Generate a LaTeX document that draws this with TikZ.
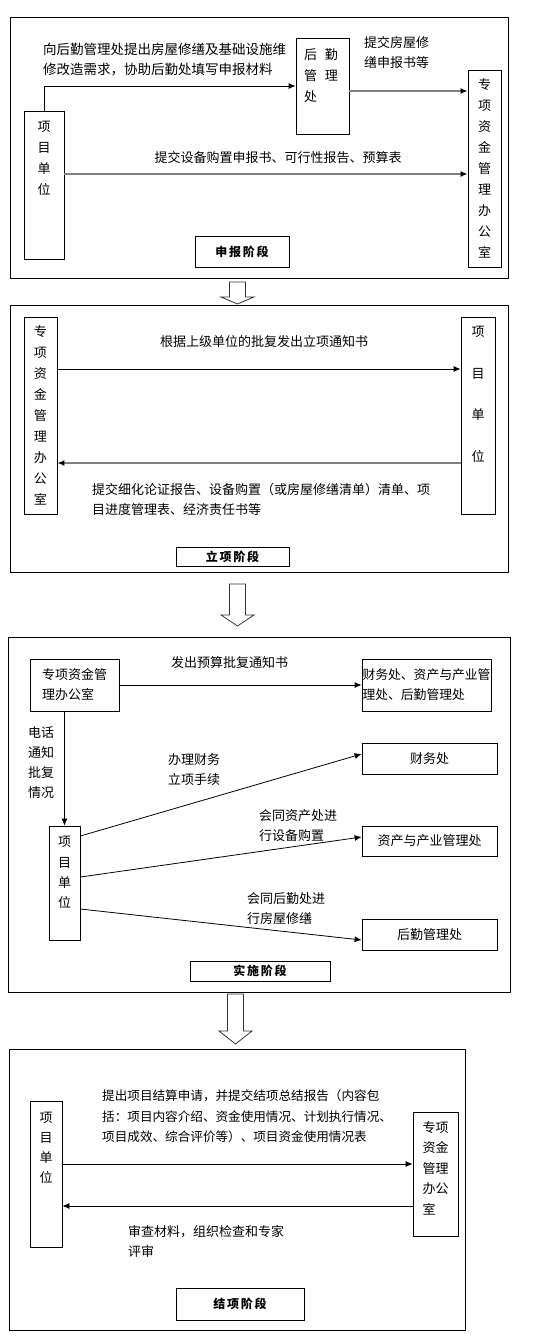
\documentclass[tikz,border=0pt]{standalone}
\usepackage{fontspec}
\setmainfont{Noto Sans CJK SC}
\newfontfamily\stagefont{Noto Sans CJK SC}[LetterSpace=15]
\usetikzlibrary{arrows.meta}
\definecolor{linegray}{RGB}{128,128,128}
\newcommand{\stagearrow}[4]{\draw[blockarr] (#1-8,#2) -- (#1-8,#3) -- (#1-16.5,#3) -- (#1,#4) -- (#1+16.5,#3) -- (#1+8,#3) -- (#1+8,#2) -- cycle;}

\begin{document}
\begin{tikzpicture}[x=1pt,y=-1pt,
	frame/.style={draw,line width=0.8pt},
	box/.style={rectangle,draw,line width=0.8pt,inner sep=0pt},
	txt/.style={inner sep=0pt,align=left,font=\fontsize{13}{20}\selectfont},
	vtxt/.style={inner sep=0pt,align=center,font=\fontsize{13}{21}\selectfont},
	stage/.style={box,font=\stagefont\bfseries\fontsize{12}{14}\selectfont},
	arr/.style={-{Latex[length=7pt,width=6pt]},line width=0.8pt},
	garr/.style={-{Latex[length=7pt,width=6pt,black]},draw=linegray,line width=2pt},
	blockarr/.style={draw=black!80,line width=0.8pt}]
	\useasboundingbox (0,0) rectangle (552,1339);

	\draw[frame] (10,17) rectangle (508,278);
	\path (44,185) node(unit1)[box,minimum width=40,minimum height=148]{}
		(44,158) node(unit1txt)[vtxt]{项\\目\\单\\位}
		(322.5,86) node(hq1)[box,minimum width=53,minimum height=96]{}
		(321,76) node(hq1txt)[txt,font=\fontsize{13}{21}\selectfont]{后\hspace{8pt}勤\\管\hspace{8pt}理\\处}
		(484.5,168.5) node(office1)[box,vtxt,minimum width=33,minimum height=197]{专\\项\\资\\金\\管\\理\\办\\公\\室}
		(242,251.5) node(stage1)[stage,minimum width=94,minimum height=31]{申报阶段}
		(43,60) node(req1)[txt,anchor=west,font=\fontsize{13.5}{20}\selectfont]{向后勤管理处提出房屋修缮及基础设施维\\修改造需求，协助后勤处填写申报材料}
		(364,53) node(sub1)[txt,anchor=west]{提交房屋修\\缮申报书等}
		(278,158) node(equip1)[txt]{提交设备购置申报书、可行性报告、预算表};
	\draw[arr] (unit1.north) |- (hq1.west);
	\draw[garr] (hq1.east |- 0,91) -- (office1.west |- 0,91);
	\draw[garr] (unit1.east |- 0,174) -- (office1.west |- 0,174);

	\stagearrow{237.5}{282}{297}{304}

	\draw[frame] (10,305) rectangle (508,572);
	\path (40.5,415.5) node(office2)[box,vtxt,minimum width=33,minimum height=197]{专\\项\\资\\金\\管\\理\\办\\公\\室}
		(478,415.5) node(unit2)[box,minimum width=34,minimum height=197]{}
		(478,394.5) node(unit2txt)[vtxt,font=\fontsize{13}{41.5}\selectfont]{项\\目\\单\\位}
		(264,342) node(notice2)[txt]{根据上级单位的批复发出立项通知书}
		(92,499) node(detail2)[txt,anchor=west]{提交细化论证报告、设备购置（或房屋修缮清单）清单、项\\目进度管理表、经济责任书等}
		(232.5,556.5) node(stage2)[stage,minimum width=113,minimum height=19]{立项阶段};
	\draw[arr] (office2.east |- 0,369) -- (unit2.west |- 0,369);
	\draw[garr] (unit2.west |- 0,463) -- (office2.east |- 0,463);

	\stagearrow{237.5}{584}{615}{626}

	\draw[frame] (8,637) rectangle (510,992);
	\path (74.5,685) node(office3)[box,txt,minimum width=89,minimum height=52]{专项资金管\\理办公室}
		(426.5,685) node(depts3)[box,txt,font=\fontsize{12.8}{20}\selectfont,minimum width=129,minimum height=52]{财务处、资产与产业管\\理处、后勤管理处}
		(229.5,663) node(notice3)[txt]{发出预算批复通知书}
		(41,763) node(phone3)[txt,align=center]{电话\\通知\\批复\\情况}
		(64.5,883) node(unit3)[box,minimum width=31,minimum height=114]{}
		(64.5,872.5) node(unit3txt)[vtxt,font=\fontsize{13}{20.3}\selectfont]{项\\目\\单\\位}
		(429.5,758.5) node(finance3)[box,txt,minimum width=135,minimum height=31]{财务处}
		(429.5,841) node(assets3)[box,txt,minimum width=135,minimum height=30]{资产与产业管理处}
		(429.5,934.5) node(logistics3)[box,txt,minimum width=135,minimum height=31]{后勤管理处}
		(168,769.5) node(fin3)[txt,anchor=west]{办理财务\\立项手续}
		(259,825.5) node(ast3)[txt,anchor=west]{会同资产处进\\行设备购置}
		(247,908.5) node(log3)[txt,anchor=west]{会同后勤处进\\行房屋修缮}
		(260,971) node(stage3)[stage,minimum width=140,minimum height=20]{实施阶段};
	\draw[arr] (office3.east) -- (depts3.west);
	\draw[arr] (unit3.north |- office3.south) -- (unit3.north);
	\draw[arr] (unit3.east |- 0,836) -- (finance3.west |- 0,754);
	\draw[arr] (unit3.east |- 0,877) -- (assets3.west |- 0,837);
	\draw[arr] (unit3.east |- 0,909) -- (logistics3.west |- 0,940);

	\stagearrow{235.5}{994}{1031}{1044}

	\draw[frame] (9,1049) rectangle (465,1330);
	\path (46,1174) node(unit4)[box,minimum width=32,minimum height=146]{}
		(46,1148) node(unit4txt)[vtxt,font=\fontsize{13}{20}\selectfont]{项\\目\\单\\位}
		(435.5,1174) node(office4)[box,minimum width=45,minimum height=124]{}
		(435.5,1168) node(office4txt)[txt,font=\fontsize{13}{20.5}\selectfont]{专项\\资金\\管理\\办公\\室}
		(102,1116.5) node(final4)[txt,anchor=west,font=\fontsize{12.6}{20.5}\selectfont]{提出项目结算申请，并提交结项总结报告（内容包\\括：项目内容介绍、资金使用情况、计划执行情况、\\项目成效、综合评价等）、项目资金使用情况表}
		(128,1241.5) node(review4)[txt,anchor=west]{审查材料，组织检查和专家\\评审}
		(240,1304) node(stage4)[stage,minimum width=128,minimum height=32]{结项阶段};
	\draw[arr] (unit4.east |- 0,1164) -- (office4.west |- 0,1164);
	\draw[arr] (office4.west |- 0,1206) -- (unit4.east |- 0,1206);
\end{tikzpicture}
\end{document}
